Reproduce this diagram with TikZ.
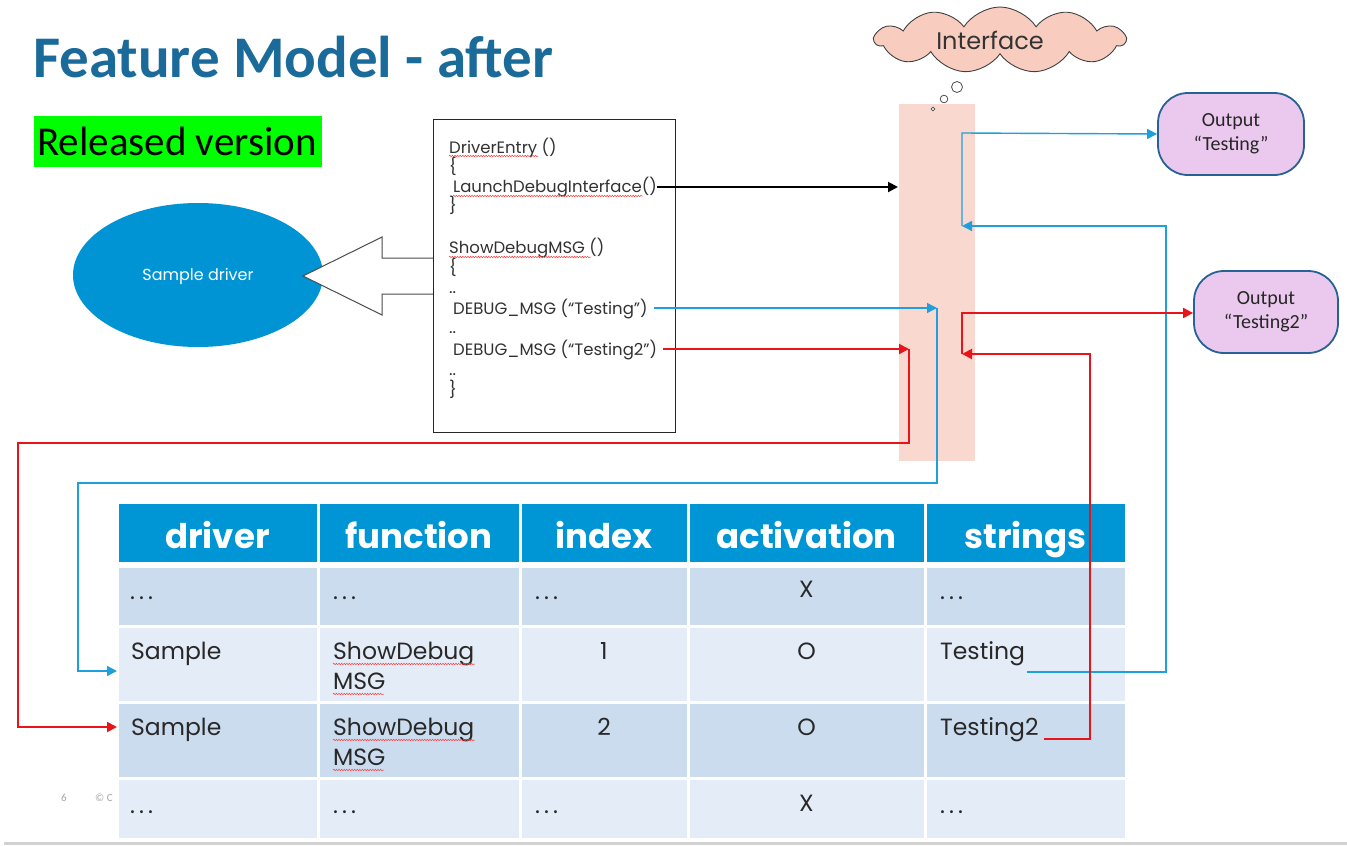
\documentclass[tikz,border=0pt]{standalone}
\usepackage{fontspec}
\setmainfont{Carlito}
\newfontfamily\gothic{Poppins}
\usetikzlibrary{arrows.meta,shapes.symbols,decorations.pathmorphing}

\definecolor{titleblue}{RGB}{26,106,154}
\definecolor{hlgreen}{RGB}{0,255,0}
\definecolor{drvblue}{RGB}{0,148,212}
\definecolor{hdrblue}{RGB}{0,150,214}
\definecolor{rowdark}{RGB}{203,220,238}
\definecolor{rowlight}{RGB}{228,236,247}
\definecolor{ifpink}{RGB}{249,216,207}
\definecolor{cloudpink}{RGB}{248,205,192}
\definecolor{outfill}{RGB}{235,201,238}
\definecolor{outedge}{RGB}{40,98,148}
\definecolor{lnblue}{RGB}{30,160,222}
\definecolor{lnred}{RGB}{232,20,26}
\definecolor{celltext}{RGB}{40,40,40}
\definecolor{codegray}{RGB}{50,50,50}

\newcommand{\spacedots}{.\hspace{4pt}.\hspace{4pt}.}

\tikzset{
  blueln/.style={draw=lnblue, line width=1.4pt},
  redln/.style={draw=lnred, line width=2pt},
  tipped/.style={-{Triangle[length=10pt,width=10pt]}},
  codetxt/.style={anchor=base west, inner sep=0pt, text=codegray,
    font=\gothic\fontsize{16.5}{18}\selectfont},
  celltxt/.style={anchor=base west, inner sep=0pt, text=celltext,
    font=\gothic\fontsize{23.5}{26}\selectfont},
  cellmid/.style={celltxt, anchor=base},
  hdrtxt/.style={anchor=base, inner sep=0pt, text=white,
    font=\gothic\bfseries\fontsize{34}{38}\selectfont},
  outbox/.style={draw=outedge, line width=1.8pt, fill=outfill,
    rounded corners=30pt, minimum width=146pt, minimum height=82pt,
    align=center, font=\fontsize{20}{24}\selectfont, text=black!85},
  squig/.style={draw=red!75, line width=0.5pt, decorate,
    decoration={snake, segment length=2.6pt, amplitude=0.8pt}},
}

\begin{document}
\begin{tikzpicture}[x=1pt,y=-1pt]
\useasboundingbox (0,0) rectangle (1347,846);
\fill[white] (0,0) rectangle (1347,846);

% headings
\node[anchor=base west, inner sep=0pt, text=titleblue,
  font=\bfseries\fontsize{59}{64}\selectfont] (title) at (33,77) {Feature Model - after};
\node[anchor=north west, fill=hlgreen, minimum width=288pt, minimum height=51pt, inner sep=0pt] (relbg) at (34,116) {};
\node[anchor=base, inner sep=0pt, font=\fontsize{41}{46}\selectfont] (rel) at (177,155) {Released version};

% footer
\node[anchor=base, inner sep=0pt, text=black!35, font=\fontsize{11}{12}\selectfont] (pg) at (64,801) {6};
\node[anchor=base west, inner sep=0pt, text=black!35, font=\fontsize{11}{12}\selectfont] (cp) at (95,801) {\textcopyright{} C};
\draw[black!18, line width=3pt] (4,843) -- (1347,843);

% driver ellipse
\fill[drvblue] (198,275) ellipse [x radius=125, y radius=72];
\node[text=white, font=\gothic\fontsize{16}{19}\selectfont] (drv) at (198,276) {Sample driver};

% hollow block arrow from the code box to the driver
\draw[black!70, line width=1pt, fill=white]
  (433,258) -- (382,258) -- (382,237) -- (303,276) -- (382,315) -- (382,294) -- (433,294);

% code box
\node[draw=black!85, line width=1.2pt, anchor=north west, minimum width=242pt, minimum height=313pt, inner sep=0pt] (code) at (433,119) {};
\node[codetxt] (l1) at (449,153) {DriverEntry ()};
\node[codetxt] (l2) at (449,172) {\{};
\node[codetxt] (l3) at (453,192) {LaunchDebugInterface()};
\node[codetxt] (l4) at (449,211) {\}};
\node[codetxt] (l5) at (449,253) {ShowDebugMSG ()};
\node[codetxt] (l6) at (449,273) {\{};
\node[codetxt] (l7) at (449,293) {..};
\node[codetxt] (l8) at (453,314) {DEBUG\_MSG (“Testing”)};
\node[codetxt] (l9) at (449,333) {..};
\node[codetxt] (l10) at (453,355) {DEBUG\_MSG (“Testing2”)};
\node[codetxt] (l11) at (449,375) {..};
\node[codetxt] (l12) at (449,395) {\}};
\draw[squig] (449,156) -- (538,156);
\draw[squig] (453,196) -- (643,196);
\draw[squig] (449,257) -- (591,257);

% interface bar and cloud
\node[fill=ifpink, anchor=north west, minimum width=76pt, minimum height=357pt, inner sep=0pt] (iface) at (899,104) {};
\node[cloud, cloud puffs=11, cloud puff arc=115, aspect=3.6, draw=black!75, line width=0.9pt,
  fill=cloudpink, minimum width=250pt, minimum height=66pt, inner sep=0pt] (cloud) at (1000,40) {};
\node[font=\gothic\fontsize{24}{28}\selectfont, text=black!80] (cloudtxt) at (990,40) {Interface};
\draw[black!70, line width=0.8pt, fill=white] (957,87) circle (5.5);
\draw[black!70, line width=0.8pt, fill=white] (944,99) circle (3.8);
\draw[black!70, line width=0.8pt, fill=white] (933,109) circle (1.9);

% output boxes
\node[outbox] (out1) at (1231,134) {Output\\“Testing”};
\node[outbox, minimum width=144pt] (out2) at (1266,312) {Output\\“Testing2”};

% table
\foreach \xa/\xb in {117/318,318/520,520/688,688/925,925/1126}{
  \fill[hdrblue] (\xa+1.5,504) rectangle (\xb-1.5,562);
  \fill[rowdark] (\xa+1.5,568) rectangle (\xb-1.5,625);
  \fill[rowlight] (\xa+1.5,628) rectangle (\xb-1.5,701);
  \fill[rowdark] (\xa+1.5,704) rectangle (\xb-1.5,777);
  \fill[rowlight] (\xa+1.5,780) rectangle (\xb-1.5,838);
}
\node[hdrtxt] (h1) at (217.5,548) {driver};
\node[hdrtxt] (h2) at (419,548) {function};
\node[hdrtxt] (h3) at (604,548) {index};
\node[hdrtxt] (h4) at (806.5,548) {activation};
\node[hdrtxt] (h5) at (1025.5,548) {strings};

\node[celltxt] (a1) at (130,599) {\spacedots};
\node[celltxt] (a2) at (333,599) {\spacedots};
\node[celltxt] (a3) at (535,599) {\spacedots};
\node[cellmid] (a4) at (806.5,597) {X};
\node[celltxt] (a5) at (940,599) {\spacedots};

\node[celltxt] (b1) at (131,659) {Sample};
\node[celltxt] (b2) at (333,659) {ShowDebug};
\node[celltxt] (b2b) at (333,689) {MSG};
\node[cellmid] (b3) at (604,659) {1};
\node[cellmid] (b4) at (806.5,659) {O};
\node[celltxt] (b5) at (940,659) {Testing};

\node[celltxt] (c1) at (131,735) {Sample};
\node[celltxt] (c2) at (333,735) {ShowDebug};
\node[celltxt] (c2b) at (333,765) {MSG};
\node[cellmid] (c3) at (604,735) {2};
\node[cellmid] (c4) at (806.5,735) {O};
\node[celltxt] (c5) at (940,735) {Testing2};

\node[celltxt] (d1) at (130,813) {\spacedots};
\node[celltxt] (d2) at (333,813) {\spacedots};
\node[celltxt] (d3) at (535,813) {\spacedots};
\node[cellmid] (d4) at (806.5,811) {X};
\node[celltxt] (d5) at (940,813) {\spacedots};

\draw[squig] (333,664) -- (475,664);
\draw[squig] (333,694) -- (384,694);
\draw[squig] (333,740) -- (475,740);
\draw[squig] (333,770) -- (384,770);

% connector points
\coordinate (launchIn) at (898,187);
\coordinate (msgIn) at (937,308);
\coordinate (msg2In) at (909,349);
\coordinate (row1In) at (117,671);
\coordinate (row2In) at (117,727);
\coordinate (str1Out) at (1027,672);
\coordinate (str2Out) at (1044,739);
\coordinate (ret1) at (962,226);
\coordinate (ret2) at (962,354);

% connectors
\draw[black, line width=2pt, tipped] (l3.east |- launchIn) -- (launchIn);

\draw[blueln, tipped] (l8.east |- msgIn) ++(6,0) -- (msgIn);
\draw[blueln, tipped] (msgIn) -- (937,483) -- (78,483) -- (78,671) -- (row1In);
\draw[blueln, tipped] (str1Out) -- (1166,672) -- (1166,226) -- (ret1);
\draw[blueln, tipped] (ret1) -- (962,133) -- (out1.west);

\draw[redln, tipped] (l10.east |- msg2In) ++(6,0) -- (msg2In);
\draw[redln, tipped] (msg2In) -- (909,443) -- (18,443) -- (18,727) -- (row2In);
\draw[redln, tipped] (str2Out) -- (1090,739) -- (1090,354) -- (ret2);
\draw[redln, tipped] (ret2) -- (962,313) -- (out2.west |- 0,313);
\end{tikzpicture}
\end{document}
